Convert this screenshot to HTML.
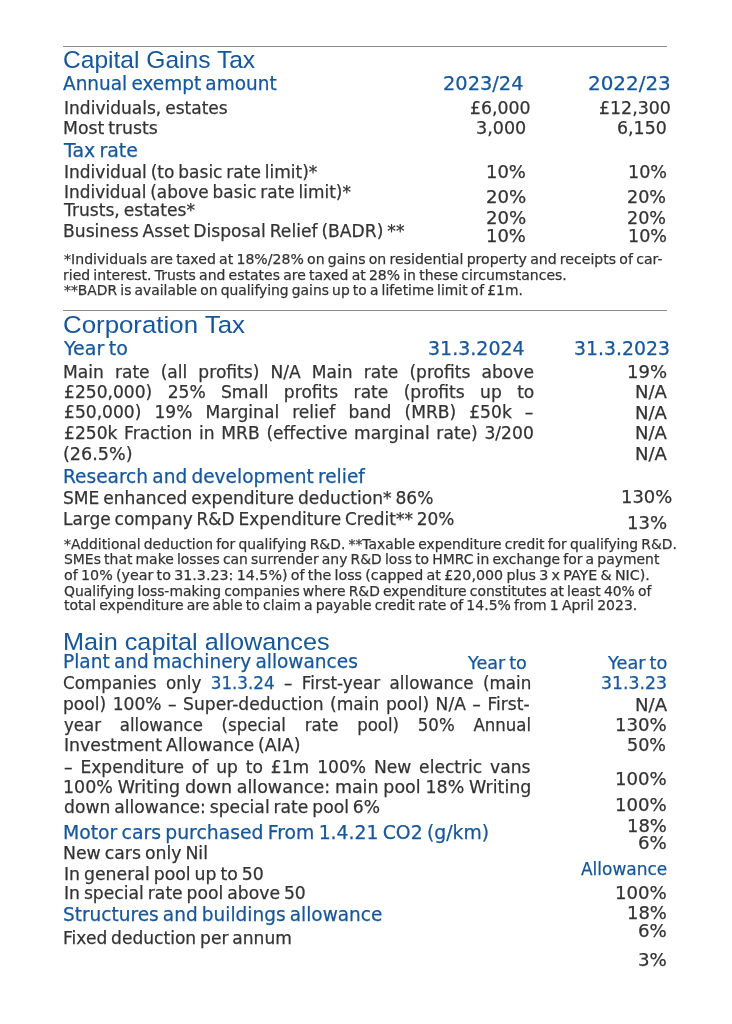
<!DOCTYPE html><html lang="en"><head><meta charset="utf-8"><title>Tax rates</title><style>
html,body{margin:0;padding:0;background:#fff}
#p{position:relative;width:732px;height:1024px;overflow:hidden;background:#fff}
.t{position:absolute;white-space:nowrap;line-height:1;margin:0;padding:0;transform-origin:0 0}
.r{position:absolute;height:1px;background:#8a8a8a}
.bl{color:#15569c}
.h1{font-family:"Liberation Sans", sans-serif;font-size:24.3px;color:#15569c}
.h2{font-family:"DejaVu Sans", "Liberation Sans", sans-serif;font-size:19.2px;color:#15569c;word-spacing:-0.09em}
.b{font-family:"DejaVu Sans", "Liberation Sans", sans-serif;font-size:17.8px;color:#333333;word-spacing:-0.09em}
.bb{font-family:"DejaVu Sans", "Liberation Sans", sans-serif;font-size:17.8px;color:#15569c;word-spacing:-0.09em}
.j{font-family:"DejaVu Sans", "Liberation Sans", sans-serif;font-size:17.8px;color:#333333;word-spacing:-0.09em}
.f{font-family:"DejaVu Sans", "Liberation Sans", sans-serif;font-size:14.6px;color:#333333;word-spacing:-0.09em}
.b,.j,.bb,.f,.h2{-webkit-text-stroke:0.25px currentColor}
</style></head><body><div id="p">
<div class="r" style="left:63.4px;top:45.65px;width:603.6px"></div>
<div class="r" style="left:63.4px;top:309.8px;width:603.6px"></div>
<div class="t h1" style="left:63.29px;top:48.10px;transform:scaleX(1.0115);">Capital Gains Tax</div>
<div class="t h2" style="left:62.90px;top:74.20px;transform:scaleX(0.9628);">Annual exempt amount</div>
<div class="t h2" style="left:443.19px;top:74.10px;transform:scaleX(1.0100);">2023/24</div>
<div class="t h2" style="left:587.96px;top:74.00px;transform:scaleX(1.0386);">2022/23</div>
<div class="t b" style="left:63.54px;top:98.65px;transform:scaleX(0.9584);">Individuals, estates</div>
<div class="t b" style="left:469.73px;top:98.65px;transform:scaleX(0.9736);">£6,000</div>
<div class="t b" style="left:599.42px;top:98.65px;transform:scaleX(0.9776);">£12,300</div>
<div class="t b" style="left:63.43px;top:119.30px;transform:scaleX(0.9720);">Most trusts</div>
<div class="t b" style="left:475.61px;top:119.30px;transform:scaleX(0.9860);">3,000</div>
<div class="t b" style="left:617.02px;top:119.30px;transform:scaleX(0.9780);">6,150</div>
<div class="t h2" style="left:63.89px;top:141.40px;transform:scaleX(0.9852);">Tax rate</div>
<div class="t b" style="left:63.54px;top:162.60px;transform:scaleX(0.9567);">Individual (to basic rate limit)*</div>
<div class="t b" style="left:486.29px;top:162.60px;transform:scaleX(1.0097);">10%</div>
<div class="t b" style="left:628.01px;top:162.60px;transform:scaleX(0.9884);">10%</div>
<div class="t b" style="left:63.55px;top:183.00px;transform:scaleX(0.9515);">Individual (above basic rate limit)*</div>
<div class="t b" style="left:486.28px;top:187.80px;transform:scaleX(1.0203);">20%</div>
<div class="t b" style="left:627.41px;top:187.80px;transform:scaleX(0.9884);">20%</div>
<div class="t b" style="left:63.86px;top:201.35px;transform:scaleX(0.9623);">Trusts, estates*</div>
<div class="t b" style="left:486.28px;top:208.80px;transform:scaleX(1.0203);">20%</div>
<div class="t b" style="left:627.41px;top:208.80px;transform:scaleX(0.9884);">20%</div>
<div class="t b" style="left:63.44px;top:222.10px;transform:scaleX(0.9644);">Business Asset Disposal Relief (BADR) **</div>
<div class="t b" style="left:486.29px;top:227.10px;transform:scaleX(1.0097);">10%</div>
<div class="t b" style="left:628.01px;top:227.10px;transform:scaleX(0.9884);">10%</div>
<div class="t f" style="left:63.80px;top:252.30px;transform:scaleX(0.9653);">*Individuals are taxed at 18%/28% on gains on residential property and receipts of car-</div>
<div class="t f" style="left:62.84px;top:268.00px;transform:scaleX(0.9594);">ried interest. Trusts and estates are taxed at 28% in these circumstances.</div>
<div class="t f" style="left:63.80px;top:283.00px;transform:scaleX(0.9494);">**BADR is available on qualifying gains up to a lifetime limit of £1m.</div>
<div class="t h1" style="left:63.24px;top:312.50px;transform:scaleX(1.0634);">Corporation Tax</div>
<div class="t h2" style="left:63.89px;top:338.80px;transform:scaleX(0.9934);">Year to</div>
<div class="t h2" style="left:427.51px;top:338.70px;transform:scaleX(0.9902);">31.3.2024</div>
<div class="t h2" style="left:573.52px;top:338.90px;transform:scaleX(0.9827);">31.3.2023</div>
<div class="t j" style="left:63.44px;top:362.90px;word-spacing:5.825px;transform:scaleX(0.9620);">Main rate (all profits) N/A Main rate (profits above</div>
<div class="t j" style="left:64.04px;top:383.00px;word-spacing:10.304px;transform:scaleX(0.9620);">£250,000) 25% Small profits rate (profits up to</div>
<div class="t j" style="left:64.04px;top:403.10px;word-spacing:7.886px;transform:scaleX(0.9620);">£50,000) 19% Marginal relief band (MRB) £50k –</div>
<div class="t j" style="left:64.04px;top:423.90px;word-spacing:1.295px;transform:scaleX(0.9620);">£250k Fraction in MRB (effective marginal rate) 3/200</div>
<div class="t b" style="left:62.81px;top:445.20px;transform:scaleX(0.9892);">(26.5%)</div>
<div class="t b" style="left:627.39px;top:362.80px;transform:scaleX(1.0123);">19%</div>
<div class="t b" style="left:634.68px;top:383.40px;transform:scaleX(1.0158);">N/A</div>
<div class="t b" style="left:634.68px;top:403.90px;transform:scaleX(1.0158);">N/A</div>
<div class="t b" style="left:634.68px;top:424.40px;transform:scaleX(1.0158);">N/A</div>
<div class="t b" style="left:634.68px;top:444.65px;transform:scaleX(1.0158);">N/A</div>
<div class="t h2" style="left:63.43px;top:466.85px;transform:scaleX(0.9666);">Research and development relief</div>
<div class="t b" style="left:63.44px;top:488.70px;transform:scaleX(0.9603);">SME enhanced expenditure deduction* 86%</div>
<div class="t b" style="left:620.59px;top:488.30px;transform:scaleX(1.0092);">130%</div>
<div class="t b" style="left:63.45px;top:509.60px;transform:scaleX(0.9535);">Large company R&D Expenditure Credit** 20%</div>
<div class="t b" style="left:626.59px;top:514.20px;transform:scaleX(1.0150);">13%</div>
<div class="t f" style="left:63.80px;top:536.50px;transform:scaleX(0.9513);">*Additional deduction for qualifying R&D. **Taxable expenditure credit for qualifying R&D.</div>
<div class="t f" style="left:64.40px;top:552.10px;transform:scaleX(0.9545);">SMEs that make losses can surrender any R&D loss to HMRC in exchange for a payment</div>
<div class="t f" style="left:63.80px;top:567.90px;transform:scaleX(0.9775);">of 10% (year to 31.3.23: 14.5%) of the loss (capped at £20,000 plus 3 x PAYE & NIC).</div>
<div class="t f" style="left:63.80px;top:583.50px;transform:scaleX(0.9524);">Qualifying loss-making companies where R&D expenditure constitutes at least 40% of</div>
<div class="t f" style="left:63.80px;top:598.30px;transform:scaleX(0.9603);">total expenditure are able to claim a payable credit rate of 14.5% from 1 April 2023.</div>
<div class="t h1" style="left:62.52px;top:629.50px;transform:scaleX(1.0391);">Main capital allowances</div>
<div class="t h2" style="left:63.43px;top:651.70px;transform:scaleX(0.9655);">Plant and machinery allowances</div>
<div class="t bb" style="left:467.59px;top:654.00px;transform:scaleX(0.9888);">Year to</div>
<div class="t bb" style="left:608.10px;top:654.00px;transform:scaleX(0.9972);">Year to</div>
<div class="t bb" style="left:600.93px;top:674.30px;transform:scaleX(0.9716);">31.3.23</div>
<div class="t j" style="left:62.86px;top:674.40px;word-spacing:4.270px;transform:scaleX(0.9428);">Companies only <span class="bl">31.3.24</span> – First-year allowance (main</div>
<div class="t j" style="left:62.84px;top:695.40px;word-spacing:1.083px;transform:scaleX(0.9620);">pool) 100% – Super-deduction (main pool) N/A – First-</div>
<div class="t j" style="left:63.80px;top:715.70px;word-spacing:14.422px;transform:scaleX(0.9331);">year allowance (special rate pool) 50% Annual</div>
<div class="t b" style="left:63.53px;top:736.35px;transform:scaleX(0.9744);">Investment Allowance (AIA)</div>
<div class="t j" style="left:63.80px;top:757.50px;word-spacing:2.541px;transform:scaleX(0.9620);">– Expenditure of up to £1m 100% New electric vans</div>
<div class="t j" style="left:62.82px;top:777.70px;word-spacing:-0.712px;transform:scaleX(0.9812);">100% Writing down allowance: main pool 18% Writing</div>
<div class="t b" style="left:63.80px;top:798.40px;transform:scaleX(0.9646);">down allowance: special rate pool 6%</div>
<div class="t h2" style="left:63.42px;top:823.00px;transform:scaleX(0.9798);">Motor cars purchased From 1.4.21 CO2 (g/km)</div>
<div class="t b" style="left:63.43px;top:844.20px;transform:scaleX(0.9732);">New cars only Nil</div>
<div class="t b" style="left:63.53px;top:865.00px;transform:scaleX(0.9727);">In general pool up to 50</div>
<div class="t b" style="left:63.53px;top:883.50px;transform:scaleX(0.9668);">In special rate pool above 50</div>
<div class="t h2" style="left:63.44px;top:904.60px;transform:scaleX(0.9635);">Structures and buildings allowance</div>
<div class="t b" style="left:63.44px;top:929.20px;transform:scaleX(0.9598);">Fixed deduction per annum</div>
<div class="t b" style="left:634.98px;top:695.50px;transform:scaleX(1.0190);">N/A</div>
<div class="t b" style="left:615.38px;top:715.60px;transform:scaleX(1.0194);">130%</div>
<div class="t b" style="left:627.41px;top:736.20px;transform:scaleX(0.9884);">50%</div>
<div class="t b" style="left:615.38px;top:769.70px;transform:scaleX(1.0194);">100%</div>
<div class="t b" style="left:615.38px;top:795.70px;transform:scaleX(1.0194);">100%</div>
<div class="t b" style="left:626.59px;top:816.70px;transform:scaleX(1.0097);">18%</div>
<div class="t b" style="left:638.38px;top:833.60px;transform:scaleX(1.0219);">6%</div>
<div class="t bb" style="left:581.00px;top:860.35px;transform:scaleX(0.9550);">Allowance</div>
<div class="t b" style="left:615.38px;top:883.60px;transform:scaleX(1.0194);">100%</div>
<div class="t b" style="left:626.59px;top:903.60px;transform:scaleX(1.0097);">18%</div>
<div class="t b" style="left:638.38px;top:921.85px;transform:scaleX(1.0219);">6%</div>
<div class="t b" style="left:638.38px;top:950.50px;transform:scaleX(1.0219);">3%</div>
</div></body></html>
